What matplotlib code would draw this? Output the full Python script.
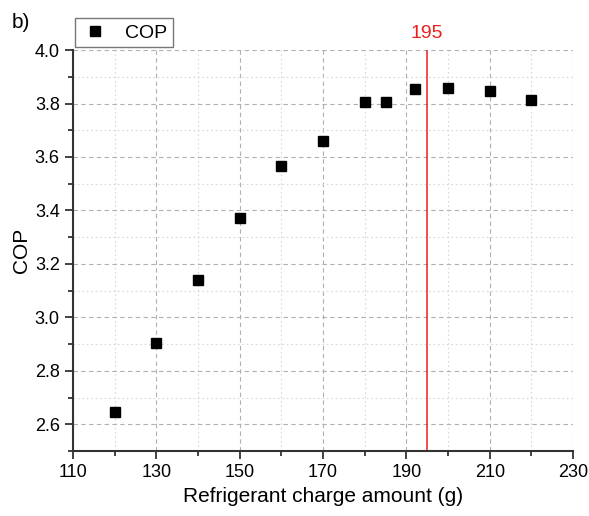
import matplotlib
matplotlib.use('Agg')
from matplotlib import pyplot as plt
from matplotlib.ticker import MultipleLocator, FormatStrFormatter

# dados
charge = [120, 130, 140, 150, 160, 170, 180, 185, 192, 200, 210, 220]
cop = [2.645, 2.905, 3.14, 3.37, 3.565, 3.66, 3.805, 3.805, 3.855, 3.857, 3.845, 3.812]
optimum = 195

plt.rcParams['font.family'] = ['Liberation Sans', 'DejaVu Sans']

fig = plt.figure(figsize=(5.89, 5.16), dpi=100)
ax = fig.add_axes([0.124, 0.126, 0.849, 0.777])

ax.plot(charge, cop, 's', color='black', markersize=6.5, label='COP', zorder=3)
ax.axvline(optimum, color='#e8211f', lw=1.1, zorder=2)
ax.text(optimum, 4.03, str(optimum), color='#e8211f', fontsize=14,
        ha='center', va='bottom')

ax.set_xlim(110, 230)
ax.set_ylim(2.5, 4.0)
ax.xaxis.set_major_locator(MultipleLocator(20, offset=10))
ax.xaxis.set_minor_locator(MultipleLocator(10))
ax.yaxis.set_major_locator(MultipleLocator(0.2))
ax.yaxis.set_minor_locator(MultipleLocator(0.1))
ax.yaxis.set_major_formatter(FormatStrFormatter('%.1f'))

ax.grid(which='major', ls=(0, (4, 3)), color='#b0b0b0', lw=0.8)
ax.grid(which='minor', ls=(0, (1.5, 2.5)), color='#d8d8d8', lw=0.8)
ax.set_axisbelow(True)

for s in ['top', 'right']:
    ax.spines[s].set_visible(False)
for s in ['left', 'bottom']:
    ax.spines[s].set_linewidth(1.5)
    ax.spines[s].set_color('#333333')

ax.tick_params(which='major', direction='out', length=6, width=1.3,
               color='#333333', labelsize=13)
ax.tick_params(which='minor', direction='out', length=3.5, width=1.3,
               color='#333333')

ax.set_xlabel('Refrigerant charge amount (g)', fontsize=15, labelpad=4)
ax.set_ylabel('COP', fontsize=15, labelpad=3)

leg = fig.legend(loc='upper left', bbox_to_anchor=(0.127, 0.965), fontsize=14,
                 frameon=True, fancybox=False, edgecolor='#555555',
                 handletextpad=0.8, borderpad=0.3, handlelength=1.5,
                 borderaxespad=0)
leg.get_frame().set_linewidth(1.0)

fig.text(0.02, 0.975, 'b)', fontsize=15, va='top')

plt.savefig('out.png', dpi=100)
